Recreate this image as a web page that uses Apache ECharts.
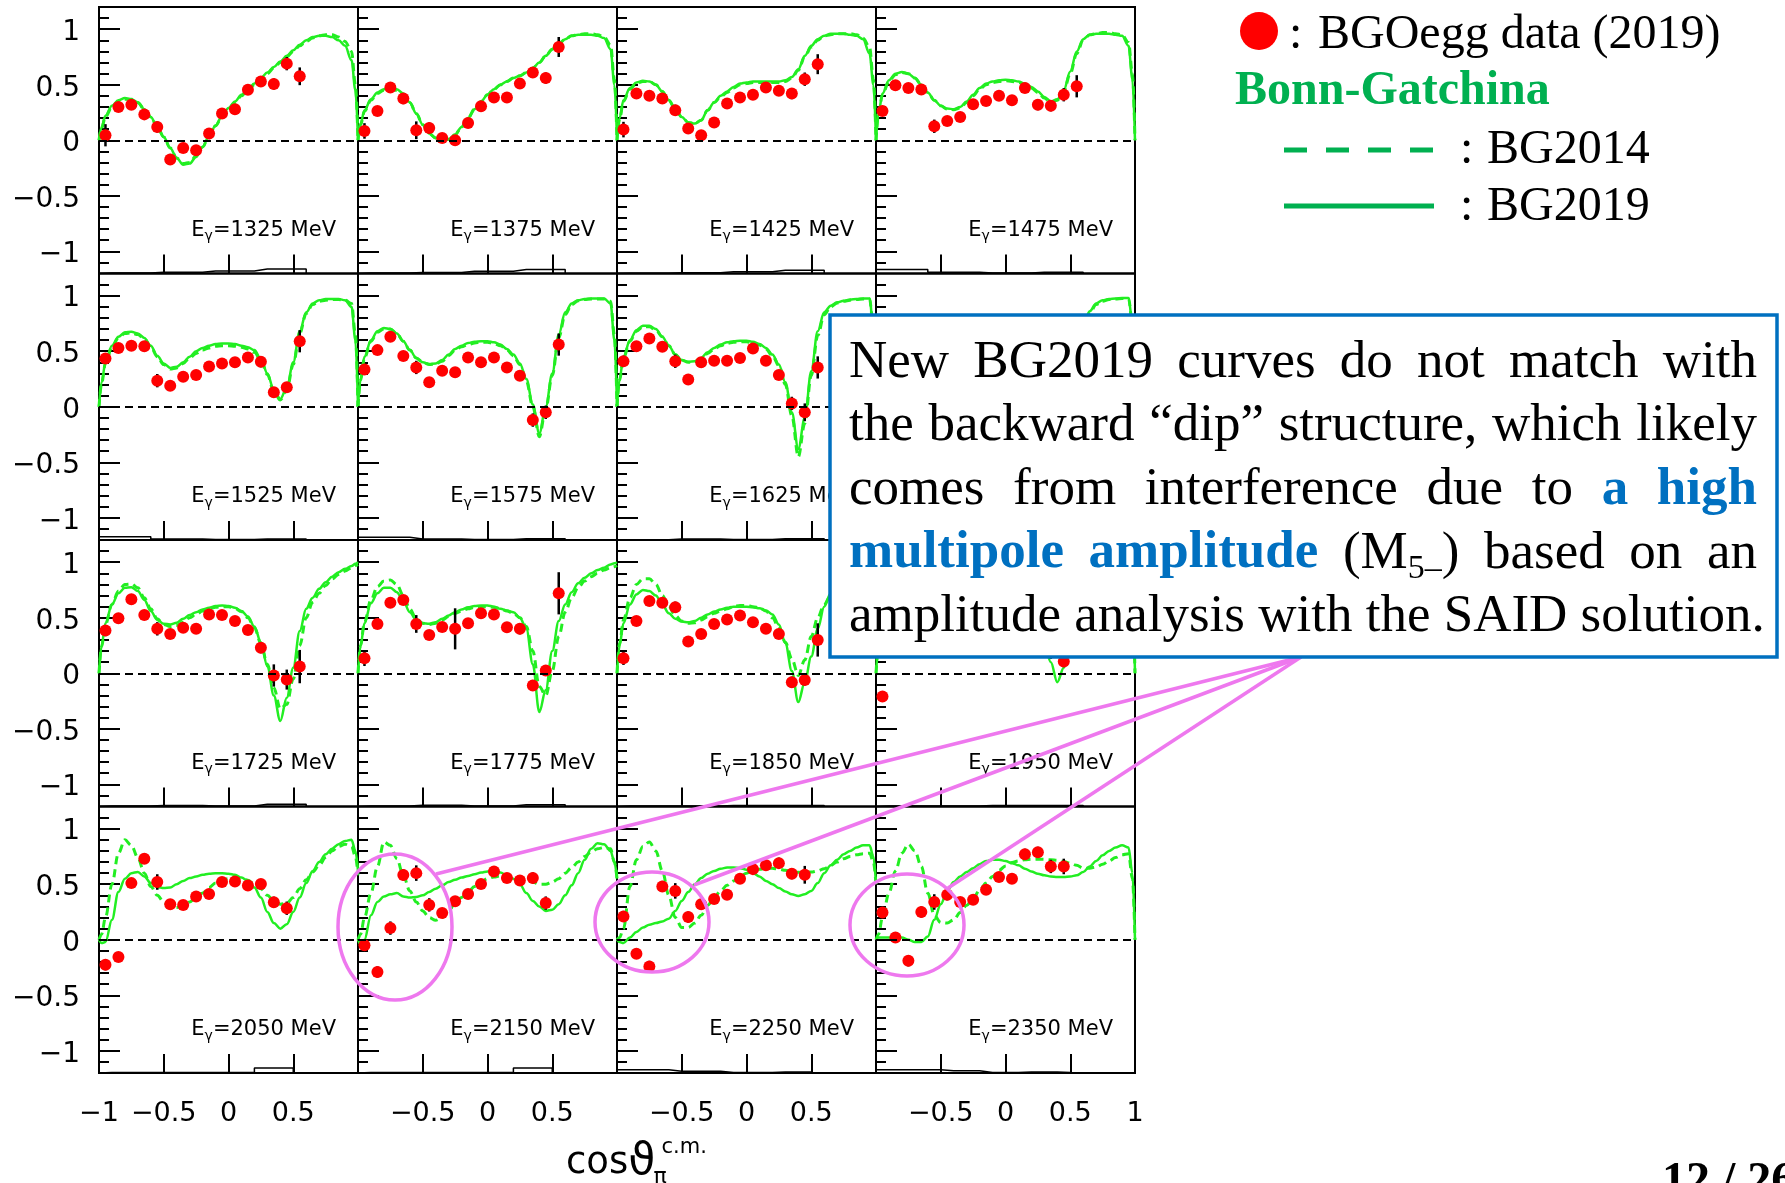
<!DOCTYPE html>
<html>
<head>
<meta charset="utf-8">
<title>BGOegg asymmetry vs Bonn-Gatchina</title>
<script src="https://cdn.jsdelivr.net/npm/echarts@6.0.0/dist/echarts.min.js"></script>
<style>
  html, body { margin: 0; padding: 0; background: #fff; }
  #chart { width: 1785px; height: 1183px; }
</style>
</head>
<body>
<div id="chart"></div>
<script>
// ---------- measured points: bin centres in cos(theta) ----------
const COS_BINS = [-0.95,-0.85,-0.75,-0.65,-0.55,-0.45,-0.35,-0.25,-0.15,-0.05,0.05,0.15,0.25,0.35,0.45,0.55];
// sampling grid of the model curves
const CURVE_X = [-1,-0.98,-0.95,-0.9,-0.85,-0.8,-0.75,-0.7,-0.65,-0.6,-0.55,
  -0.5,-0.45,-0.4,-0.35,-0.3,-0.25,-0.2,-0.15,-0.1,-0.05,0,
  0.05,0.1,0.15,0.2,0.25,0.3,0.35,0.4,0.45,0.5,0.55,
  0.6,0.65,0.7,0.75,0.8,0.85,0.9,0.95,0.98,1];

const ENERGIES = [1325,1375,1425,1475,1525,1575,1625,1675,1725,1775,1850,1950,2050,2150,2250,2350];

// ---------- 1325 MeV ----------
const asym1325 = [0.045,0.30,0.32,0.233,0.12,-0.173,-0.069,-0.09,0.06,0.24,0.28,0.454,0.53,0.507,0.69,0.576];
const err1325  = [0.1,0.03,0.03,0.04,0.05,0.05,0.04,0.04,0.05,0.04,0.04,0.04,0.04,0.05,0.06,0.08];
const bg19_1325 = [0,0.12,0.22,0.31,0.36,0.38,0.37,0.34,0.28,0.21,0.12,
  0.03,-0.07,-0.16,-0.22,-0.21,-0.15,-0.06,0.04,0.13,0.22,0.29,
  0.35,0.41,0.46,0.51,0.56,0.61,0.66,0.71,0.76,0.81,0.86,
  0.9,0.93,0.94,0.94,0.93,0.9,0.85,0.72,0.45,0];
const bg14_1325 = [0,0.11,0.21,0.3,0.35,0.37,0.37,0.34,0.28,0.21,0.12,
  0.03,-0.07,-0.16,-0.21,-0.2,-0.14,-0.06,0.04,0.13,0.21,0.28,
  0.34,0.4,0.45,0.5,0.55,0.6,0.65,0.7,0.75,0.8,0.85,
  0.89,0.92,0.94,0.95,0.95,0.93,0.89,0.8,0.5,0];
const sys1325 = [0.005,0.005,0.005,0.005,0.012,0.012,0.012,0.012,0.022,0.022,0.022,0.022,0.04,0.04,0.04,0.04];

// ---------- 1375 MeV ----------
const asym1375 = [0.084,0.264,0.474,0.375,0.09,0.11,0.02,0.0,0.156,0.306,0.384,0.384,0.51,0.61,0.56,0.84];
const err1375  = [0.07,0.03,0.03,0.05,0.08,0.05,0.04,0.03,0.03,0.03,0.03,0.03,0.03,0.04,0.05,0.09];
const bg19_1375 = [0,0.15,0.27,0.37,0.43,0.46,0.47,0.46,0.42,0.34,0.24,
  0.14,0.06,0.02,0,0.01,0.05,0.12,0.2,0.28,0.35,0.41,
  0.46,0.5,0.53,0.56,0.58,0.61,0.65,0.7,0.76,0.82,0.87,
  0.91,0.94,0.95,0.95,0.95,0.94,0.92,0.82,0.5,0];
const bg14_1375 = [0,0.14,0.26,0.36,0.42,0.45,0.46,0.45,0.41,0.34,0.24,
  0.14,0.06,0.02,0,0.01,0.05,0.12,0.2,0.28,0.35,0.41,
  0.46,0.5,0.53,0.56,0.58,0.61,0.65,0.7,0.76,0.82,0.87,
  0.91,0.94,0.95,0.96,0.96,0.95,0.93,0.86,0.55,0];
const sys1375 = [0.004,0.004,0.004,0.004,0.01,0.01,0.01,0.01,0.02,0.02,0.02,0.02,0.035,0.035,0.035,0.035];

// ---------- 1425 MeV ----------
const asym1425 = [0.096,0.42,0.40,0.375,0.27,0.105,0.045,0.16,0.33,0.385,0.41,0.475,0.445,0.42,0.55,0.685];
const err1425  = [0.07,0.03,0.03,0.04,0.05,0.04,0.03,0.03,0.03,0.03,0.04,0.03,0.04,0.05,0.06,0.09];
const bg19_1425 = [0,0.2,0.36,0.47,0.52,0.535,0.53,0.5,0.44,0.36,0.28,
  0.21,0.16,0.15,0.18,0.27,0.34,0.4,0.44,0.48,0.51,0.52,
  0.53,0.53,0.53,0.53,0.53,0.54,0.57,0.64,0.76,0.85,0.91,
  0.94,0.96,0.96,0.96,0.95,0.94,0.91,0.78,0.5,0];
const bg14_1425 = [0,0.19,0.35,0.46,0.51,0.53,0.53,0.5,0.44,0.36,0.28,
  0.21,0.16,0.15,0.18,0.27,0.34,0.39,0.43,0.47,0.5,0.51,
  0.52,0.52,0.52,0.52,0.52,0.53,0.56,0.63,0.75,0.84,0.9,
  0.94,0.95,0.96,0.96,0.96,0.95,0.92,0.84,0.55,0];
const sys1425 = [0.003,0.003,0.003,0.003,0.006,0.006,0.006,0.006,0.015,0.015,0.015,0.015,0.03,0.03,0.03,0.03];

// ---------- 1475 MeV ----------
const asym1475 = [0.264,0.495,0.47,0.456,0.126,0.174,0.21,0.324,0.354,0.40,0.36,0.47,0.32,0.31,0.41,0.486];
const err1475  = [0.03,0.03,0.03,0.03,0.06,0.03,0.03,0.03,0.03,0.03,0.03,0.03,0.05,0.05,0.06,0.1];
const bg19_1475 = [0,0.25,0.42,0.54,0.6,0.615,0.6,0.56,0.5,0.43,0.36,
  0.31,0.285,0.28,0.3,0.35,0.41,0.47,0.51,0.53,0.54,0.545,
  0.54,0.53,0.51,0.48,0.44,0.39,0.35,0.37,0.45,0.62,0.8,
  0.91,0.95,0.96,0.96,0.96,0.95,0.94,0.85,0.55,0];
const bg14_1475 = [0,0.24,0.41,0.53,0.59,0.61,0.6,0.56,0.5,0.43,0.36,
  0.31,0.28,0.275,0.29,0.34,0.4,0.46,0.5,0.52,0.53,0.535,
  0.53,0.52,0.5,0.47,0.43,0.38,0.34,0.36,0.44,0.6,0.78,
  0.9,0.95,0.96,0.97,0.97,0.96,0.95,0.88,0.6,0];
const sys1475 = [0.035,0.035,0.035,0.035,0.012,0.012,0.012,0.012,0.005,0.005,0.005,0.005,0.012,0.012,0.012,0.012];

// ---------- 1525 MeV ----------
const asym1525 = [0.435,0.53,0.55,0.545,0.235,0.19,0.27,0.285,0.363,0.39,0.40,0.444,0.405,0.13,0.175,0.59];
const err1525  = [0.04,0.03,0.03,0.04,0.06,0.04,0.03,0.03,0.03,0.03,0.03,0.03,0.05,0.04,0.04,0.1];
const bg19_1525 = [0,0.22,0.4,0.55,0.63,0.67,0.675,0.66,0.62,0.55,0.46,
  0.39,0.35,0.36,0.4,0.45,0.5,0.53,0.55,0.565,0.57,0.57,
  0.565,0.55,0.535,0.51,0.43,0.3,0.15,0.07,0.17,0.4,0.68,
  0.85,0.93,0.96,0.97,0.97,0.97,0.96,0.9,0.6,0];
const bg14_1525 = [0,0.21,0.39,0.54,0.62,0.66,0.665,0.65,0.61,0.54,0.45,
  0.38,0.34,0.35,0.39,0.44,0.48,0.51,0.53,0.545,0.55,0.55,
  0.545,0.535,0.52,0.49,0.42,0.29,0.14,0.06,0.15,0.38,0.66,
  0.84,0.92,0.95,0.96,0.965,0.965,0.96,0.93,0.65,0];
const sys1525 = [0.03,0.03,0.03,0.03,0.01,0.01,0.01,0.01,0.005,0.005,0.005,0.005,0.01,0.01,0.01,0.01];

// ---------- 1575 MeV ----------
const asym1575 = [0.336,0.51,0.63,0.456,0.354,0.22,0.324,0.31,0.444,0.40,0.444,0.354,0.28,-0.12,-0.05,0.56];
const err1575  = [0.05,0.03,0.03,0.03,0.06,0.03,0.03,0.03,0.03,0.03,0.03,0.03,0.03,0.06,0.06,0.1];
const bg19_1575 = [0,0.25,0.45,0.6,0.68,0.71,0.7,0.66,0.59,0.51,0.44,
  0.4,0.385,0.39,0.42,0.47,0.52,0.55,0.575,0.585,0.59,0.59,
  0.58,0.56,0.52,0.47,0.39,0.25,0.02,-0.24,0,0.3,0.65,
  0.85,0.93,0.96,0.97,0.975,0.975,0.975,0.93,0.6,0];
const bg14_1575 = [0,0.24,0.44,0.59,0.67,0.7,0.7,0.66,0.59,0.51,0.44,
  0.4,0.38,0.385,0.41,0.46,0.51,0.54,0.56,0.575,0.58,0.58,
  0.57,0.55,0.51,0.46,0.38,0.23,0,-0.27,-0.02,0.28,0.62,
  0.83,0.92,0.955,0.965,0.97,0.97,0.97,0.95,0.65,0];
const sys1575 = [0.025,0.025,0.025,0.025,0.01,0.01,0.01,0.01,0.005,0.005,0.005,0.005,0.012,0.012,0.012,0.012];

// ---------- 1625 MeV ----------
const asym1625 = [0.41,0.545,0.615,0.54,0.41,0.245,0.40,0.415,0.415,0.44,0.525,0.415,0.285,0.03,-0.05,0.354];
const err1625  = [0.05,0.03,0.03,0.03,0.06,0.03,0.03,0.03,0.03,0.03,0.03,0.03,0.03,0.06,0.08,0.1];
const bg19_1625 = [0,0.25,0.45,0.6,0.69,0.73,0.73,0.7,0.63,0.55,0.47,
  0.42,0.405,0.41,0.44,0.49,0.53,0.56,0.58,0.59,0.595,0.595,
  0.585,0.565,0.53,0.47,0.38,0.22,-0.05,-0.38,-0.1,0.32,0.68,
  0.85,0.91,0.94,0.955,0.965,0.97,0.975,0.975,0.7,0];
const bg14_1625 = [0,0.24,0.44,0.59,0.68,0.72,0.72,0.69,0.63,0.55,0.47,
  0.42,0.4,0.405,0.43,0.48,0.52,0.55,0.57,0.58,0.585,0.585,
  0.575,0.555,0.52,0.46,0.37,0.2,-0.08,-0.45,-0.15,0.28,0.64,
  0.83,0.9,0.935,0.95,0.96,0.965,0.97,0.97,0.72,0];
const sys1625 = [0.003,0.003,0.003,0.003,0.008,0.008,0.008,0.008,0.005,0.005,0.005,0.005,0.012,0.012,0.012,0.012];

// ---------- 1675 MeV ----------
const asym1675 = [0.40,0.52,0.64,0.58,0.42,0.32,0.38,0.40,0.44,0.48,0.50,0.42,0.28,0.02,-0.06,0.30];
const err1675  = [0.05,0.03,0.03,0.03,0.06,0.03,0.03,0.03,0.03,0.03,0.03,0.03,0.03,0.06,0.08,0.12];
const bg19_1675 = [0,0.25,0.45,0.61,0.7,0.74,0.74,0.71,0.64,0.56,0.48,
  0.43,0.42,0.43,0.46,0.5,0.54,0.57,0.59,0.6,0.6,0.6,
  0.59,0.57,0.54,0.48,0.39,0.22,-0.05,-0.4,-0.15,0.25,0.55,
  0.74,0.86,0.93,0.96,0.97,0.975,0.98,0.98,0.75,0];
const bg14_1675 = [0,0.25,0.46,0.63,0.73,0.77,0.77,0.73,0.65,0.56,0.48,
  0.43,0.42,0.43,0.45,0.49,0.53,0.56,0.58,0.59,0.595,0.595,
  0.585,0.565,0.53,0.47,0.38,0.22,0,-0.3,-0.2,0.15,0.48,
  0.7,0.84,0.92,0.95,0.965,0.97,0.975,0.975,0.75,0];
const sys1675 = [0.003,0.003,0.003,0.003,0.008,0.008,0.008,0.008,0.005,0.005,0.005,0.005,0.012,0.012,0.012,0.012];

// ---------- 1725 MeV ----------
const asym1725 = [0.384,0.495,0.666,0.525,0.40,0.354,0.41,0.40,0.53,0.525,0.47,0.39,0.23,-0.02,-0.057,0.06];
const err1725  = [0.05,0.03,0.03,0.03,0.06,0.03,0.03,0.03,0.03,0.03,0.03,0.03,0.05,0.1,0.09,0.15];
const bg19_1725 = [0,0.25,0.45,0.62,0.72,0.77,0.775,0.74,0.66,0.56,0.48,
  0.445,0.44,0.455,0.49,0.525,0.55,0.575,0.59,0.605,0.61,0.605,
  0.59,0.56,0.51,0.42,0.28,0.06,-0.2,-0.43,-0.22,0.05,0.38,
  0.58,0.68,0.76,0.82,0.87,0.91,0.94,0.965,0.985,1];
const bg14_1725 = [0,0.24,0.44,0.62,0.74,0.8,0.805,0.77,0.68,0.58,0.49,
  0.44,0.42,0.43,0.46,0.5,0.53,0.56,0.58,0.595,0.6,0.6,
  0.585,0.555,0.5,0.41,0.27,0.08,-0.13,-0.32,-0.28,-0.05,0.25,
  0.5,0.64,0.72,0.79,0.85,0.89,0.92,0.95,0.97,0.98];
const sys1725 = [0.005,0.005,0.005,0.005,0.01,0.01,0.01,0.01,0.005,0.005,0.005,0.005,0.02,0.02,0.02,0.02];

// ---------- 1775 MeV ----------
const asym1775 = [0.135,0.444,0.634,0.66,0.444,0.345,0.417,0.40,0.45,0.54,0.53,0.414,0.40,-0.11,0.024,0.72];
const err1775  = [0.07,0.03,0.03,0.04,0.08,0.03,0.03,0.185,0.03,0.03,0.03,0.03,0.05,0.05,0.04,0.19];
const bg19_1775 = [0,0.25,0.45,0.63,0.72,0.77,0.77,0.73,0.65,0.55,0.48,
  0.45,0.445,0.46,0.49,0.52,0.55,0.575,0.595,0.605,0.61,0.61,
  0.6,0.58,0.565,0.55,0.5,0.4,0.08,-0.35,-0.15,0.2,0.47,
  0.62,0.73,0.81,0.86,0.9,0.93,0.95,0.98,0.99,1];
const bg14_1775 = [0,0.25,0.46,0.66,0.78,0.83,0.84,0.8,0.7,0.58,0.49,
  0.45,0.44,0.45,0.48,0.51,0.54,0.56,0.58,0.595,0.6,0.6,
  0.595,0.58,0.56,0.54,0.5,0.42,0.2,-0.12,-0.2,0.02,0.33,
  0.55,0.68,0.77,0.83,0.87,0.9,0.93,0.95,0.96,0.97];
const sys1775 = [0.005,0.005,0.005,0.005,0.012,0.012,0.012,0.012,0.005,0.005,0.005,0.005,0.015,0.015,0.015,0.015];

// ---------- 1850 MeV ----------
const asym1850 = [0.135,0.47,0.65,0.634,0.595,0.285,0.354,0.444,0.483,0.52,0.46,0.40,0.354,-0.08,-0.06,0.30];
const err1850  = [0.06,0.03,0.03,0.03,0.05,0.03,0.03,0.03,0.03,0.03,0.03,0.03,0.04,0.05,0.05,0.15];
const bg19_1850 = [0,0.25,0.45,0.62,0.71,0.75,0.74,0.7,0.62,0.54,0.49,
  0.465,0.46,0.47,0.5,0.53,0.555,0.575,0.59,0.6,0.6,0.6,
  0.595,0.585,0.565,0.53,0.44,0.27,0.02,-0.26,-0.08,0.15,0.4,
  0.6,0.72,0.8,0.86,0.9,0.93,0.95,0.97,0.98,0.99];
const bg14_1850 = [0,0.27,0.48,0.68,0.8,0.85,0.85,0.8,0.7,0.6,0.52,
  0.47,0.45,0.455,0.48,0.51,0.54,0.56,0.58,0.6,0.61,0.61,
  0.6,0.59,0.56,0.5,0.41,0.28,0.13,-0.02,0.12,0.33,0.5,
  0.62,0.7,0.77,0.83,0.88,0.91,0.94,0.96,0.97,0.98];
const sys1850 = [0.004,0.004,0.004,0.004,0.004,0.004,0.004,0.004,0.008,0.008,0.008,0.008,0.008,0.008,0.008,0.008];

// ---------- 1950 MeV ----------
const asym1950 = [-0.21,0.30,0.55,0.60,0.50,0.35,0.40,0.45,0.50,0.55,0.50,0.45,0.35,0.20,0.105,0.40];
const err1950  = [0.03,0.03,0.03,0.03,0.05,0.03,0.03,0.03,0.03,0.03,0.03,0.03,0.04,0.07,0.05,0.15];
const bg19_1950 = [0,0.25,0.45,0.62,0.72,0.76,0.75,0.7,0.62,0.54,0.49,
  0.47,0.47,0.49,0.52,0.55,0.57,0.59,0.6,0.61,0.61,0.6,
  0.59,0.57,0.53,0.47,0.38,0.26,0.1,-0.08,0.05,0.3,0.52,
  0.67,0.77,0.83,0.87,0.9,0.92,0.93,0.93,0.7,0];
const bg14_1950 = [0,0.26,0.47,0.67,0.79,0.84,0.84,0.79,0.7,0.6,0.52,
  0.48,0.47,0.48,0.5,0.53,0.56,0.58,0.6,0.61,0.62,0.62,
  0.61,0.6,0.57,0.52,0.45,0.38,0.3,0.25,0.3,0.42,0.56,
  0.67,0.75,0.81,0.86,0.89,0.91,0.92,0.92,0.7,0];
const sys1950 = [0.004,0.004,0.004,0.004,0.004,0.004,0.004,0.004,0.008,0.008,0.008,0.008,0.008,0.008,0.008,0.008];

// ---------- 2050 MeV ----------
const asym2050 = [-0.225,-0.156,0.51,0.73,0.52,0.32,0.314,0.39,0.413,0.52,0.524,0.488,0.503,0.338,0.284];
const err2050  = [0.05,0.04,0.04,0.04,0.07,0.04,0.03,0.03,0.03,0.03,0.03,0.03,0.04,0.05,0.06];
const bg19_2050 = [0,-0.03,-0.02,0.18,0.43,0.55,0.6,0.61,0.57,0.51,0.475,
  0.465,0.47,0.5,0.53,0.555,0.57,0.585,0.595,0.6,0.6,0.595,
  0.585,0.56,0.53,0.47,0.38,0.25,0.15,0.1,0.14,0.25,0.38,
  0.51,0.62,0.7,0.77,0.82,0.86,0.89,0.9,0.8,0.62];
const bg14_2050 = [0,0.05,0.2,0.5,0.78,0.9,0.85,0.74,0.6,0.48,0.4,
  0.34,0.3,0.29,0.31,0.34,0.38,0.42,0.47,0.51,0.54,0.55,
  0.555,0.55,0.535,0.5,0.46,0.4,0.35,0.32,0.33,0.38,0.46,
  0.54,0.61,0.67,0.74,0.8,0.84,0.86,0.84,0.75,0.58];
const sys2050 = [0.005,0.005,0.005,0.005,0.005,0.005,0.005,0.005,0.005,0.005,0.005,0.005,0.045,0.045,0.045];

// ---------- 2150 MeV ----------
const asym2150 = [-0.05,-0.29,0.105,0.584,0.60,0.314,0.24,0.347,0.413,0.503,0.614,0.557,0.533,0.557,0.33];
const err2150  = [0.04,0.05,0.06,0.05,0.07,0.06,0.03,0.03,0.03,0.03,0.03,0.03,0.04,0.05,0.06];
const bg19_2150 = [0,-0.04,0,0.22,0.34,0.39,0.41,0.42,0.39,0.38,0.385,
  0.4,0.43,0.46,0.49,0.52,0.54,0.56,0.575,0.59,0.605,0.615,
  0.62,0.605,0.58,0.55,0.5,0.42,0.35,0.3,0.26,0.27,0.32,
  0.4,0.49,0.6,0.72,0.82,0.87,0.86,0.8,0.7,0.55];
const bg14_2150 = [0,0.05,0.2,0.42,0.66,0.88,0.85,0.73,0.58,0.44,0.34,
  0.26,0.2,0.175,0.2,0.26,0.33,0.38,0.43,0.48,0.52,0.55,
  0.565,0.575,0.58,0.57,0.56,0.545,0.52,0.5,0.5,0.52,0.55,
  0.6,0.65,0.7,0.75,0.79,0.82,0.83,0.82,0.7,0.55];
const sys2150 = [0.005,0.005,0.005,0.005,0.005,0.005,0.005,0.005,0.005,0.005,0.005,0.005,0.045,0.045,0.045];

// ---------- 2250 MeV ----------
const asym2250 = [0.21,-0.126,-0.24,0.48,0.44,0.204,0.32,0.366,0.405,0.55,0.636,0.67,0.69,0.595,0.585];
const err2250  = [0.05,0.04,0.05,0.05,0.07,0.05,0.03,0.03,0.03,0.03,0.03,0.03,0.05,0.05,0.08];
const bg19_2250 = [0,-0.02,-0.03,0.02,0.07,0.11,0.135,0.15,0.165,0.19,0.26,
  0.35,0.43,0.5,0.555,0.595,0.62,0.64,0.65,0.65,0.645,0.63,
  0.6,0.57,0.53,0.5,0.465,0.435,0.41,0.395,0.41,0.44,0.51,
  0.6,0.67,0.72,0.77,0.8,0.83,0.85,0.85,0.75,0.5];
const bg14_2250 = [0,0.02,0.1,0.48,0.72,0.84,0.88,0.8,0.62,0.4,0.2,
  0.11,0.11,0.15,0.22,0.31,0.38,0.44,0.49,0.53,0.57,0.6,
  0.62,0.635,0.645,0.645,0.635,0.625,0.615,0.607,0.605,0.61,0.62,
  0.64,0.67,0.7,0.73,0.75,0.765,0.775,0.78,0.7,0.5];
const sys2250 = [0.03,0.03,0.03,0.03,0.015,0.015,0.015,0.015,0.005,0.005,0.005,0.005,0.01,0.01,0.01];

// ---------- 2350 MeV ----------
const asym2350 = [0.246,0.02,-0.19,0.25,0.34,0.405,0.34,0.36,0.45,0.565,0.55,0.77,0.787,0.66,0.66];
const err2350  = [0.05,0.03,0.05,0.05,0.07,0.05,0.03,0.03,0.03,0.03,0.04,0.05,0.05,0.06,0.07];
const bg19_2350 = [0,0.02,0.02,0.02,0.02,0.02,0,-0.02,-0.02,0.03,0.18,
  0.32,0.44,0.52,0.57,0.61,0.645,0.68,0.71,0.72,0.72,0.71,
  0.69,0.67,0.64,0.615,0.595,0.58,0.57,0.565,0.565,0.57,0.58,
  0.61,0.66,0.71,0.76,0.8,0.83,0.85,0.83,0.6,0];
const bg14_2350 = [0,0.05,0.2,0.42,0.62,0.78,0.86,0.8,0.66,0.42,0.22,
  0.155,0.15,0.18,0.245,0.31,0.375,0.445,0.51,0.57,0.625,0.665,
  0.695,0.71,0.72,0.725,0.726,0.724,0.72,0.715,0.705,0.69,0.67,
  0.645,0.645,0.655,0.68,0.71,0.74,0.765,0.775,0.55,0];
const sys2350 = [0.03,0.03,0.03,0.03,0.03,0.02,0.02,0.02,0.005,0.005,0.005,0.01,0.01,0.01,0.005];

// ---------- tick labels ----------
const Y_MAJOR = [-1,-0.5,0,0.5,1];
const Y_MINOR = [-1.1,-0.9,-0.8,-0.7,-0.6,-0.4,-0.3,-0.2,-0.1,0.1,0.2,0.3,0.4,0.6,0.7,0.8,0.9,1.1];
const X_LABELS = [[-1,-0.5,0,0.5],[-0.5,0,0.5],[-0.5,0,0.5],[-0.5,0,0.5,1]];

const PANELS = [
  {e:1325, v:asym1325, err:err1325, bg14:bg14_1325, bg19:bg19_1325, sys:sys1325},
  {e:1375, v:asym1375, err:err1375, bg14:bg14_1375, bg19:bg19_1375, sys:sys1375},
  {e:1425, v:asym1425, err:err1425, bg14:bg14_1425, bg19:bg19_1425, sys:sys1425},
  {e:1475, v:asym1475, err:err1475, bg14:bg14_1475, bg19:bg19_1475, sys:sys1475},
  {e:1525, v:asym1525, err:err1525, bg14:bg14_1525, bg19:bg19_1525, sys:sys1525},
  {e:1575, v:asym1575, err:err1575, bg14:bg14_1575, bg19:bg19_1575, sys:sys1575},
  {e:1625, v:asym1625, err:err1625, bg14:bg14_1625, bg19:bg19_1625, sys:sys1625},
  {e:1675, v:asym1675, err:err1675, bg14:bg14_1675, bg19:bg19_1675, sys:sys1675},
  {e:1725, v:asym1725, err:err1725, bg14:bg14_1725, bg19:bg19_1725, sys:sys1725},
  {e:1775, v:asym1775, err:err1775, bg14:bg14_1775, bg19:bg19_1775, sys:sys1775},
  {e:1850, v:asym1850, err:err1850, bg14:bg14_1850, bg19:bg19_1850, sys:sys1850},
  {e:1950, v:asym1950, err:err1950, bg14:bg14_1950, bg19:bg19_1950, sys:sys1950},
  {e:2050, v:asym2050, err:err2050, bg14:bg14_2050, bg19:bg19_2050, sys:sys2050},
  {e:2150, v:asym2150, err:err2150, bg14:bg14_2150, bg19:bg19_2150, sys:sys2150},
  {e:2250, v:asym2250, err:err2250, bg14:bg14_2250, bg19:bg19_2250, sys:sys2250},
  {e:2350, v:asym2350, err:err2350, bg14:bg14_2350, bg19:bg19_2350, sys:sys2350}
];

// ---------- layout ----------
const GX0 = 99, GY0 = 7, GW = 259, GH = 266.5;
const Y_MIN = -1.2, Y_MAX = 1.2;
const CURVE_GREEN = '#22ee22';
const LEGEND_GREEN = '#00B050';
const NOTE_BLUE = '#0070C0';
const CALLOUT = '#ee78ee';
const SANS = '"DejaVu Sans", sans-serif';
const SERIF = '"Liberation Serif", "Times New Roman", serif';

const measure = document.createElement('canvas').getContext('2d');
function tw(t, font) { measure.font = font; return measure.measureText(t).width; }
function runsWidth(runs) { return runs.reduce((s, q) => s + tw(q.t, q.font), 0); }
function placeRuns(runs, x, y, z) {
  const out = [];
  runs.forEach(q => {
    out.push({ type: 'text', z: z, silent: true,
      style: { text: q.t, x: x, y: y + (q.dy || 0), font: q.font, fill: q.fill || '#000',
               textAlign: 'left', textVerticalAlign: 'middle' } });
    x += tw(q.t, q.font);
  });
  return out;
}
const minusFmt = v => (v < 0 ? '\u2212' + Math.abs(v) : String(v));

const grids = [], xAxes = [], yAxes = [], series = [], G = [];

PANELS.forEach((p, i) => {
  const r = Math.floor(i / 4), c = i % 4;
  grids.push({ left: GX0 + c * GW, top: GY0 + r * GH, width: GW, height: GH,
    show: true, borderColor: '#000', borderWidth: 2, backgroundColor: 'rgba(0,0,0,0)' });

  xAxes.push({ gridIndex: i, type: 'value', min: -1, max: 1, interval: 0.5,
    axisLine: { show: false, onZero: false }, splitLine: { show: false },
    axisTick: { show: true, inside: true, length: 19, lineStyle: { color: '#000', width: 2 } },
    axisLabel: { show: r === 3, customValues: X_LABELS[c], formatter: minusFmt,
      margin: 27, color: '#000', fontFamily: SANS, fontSize: 27 } });

  yAxes.push({ gridIndex: i, type: 'value', position: 'left', min: Y_MIN, max: Y_MAX,
    axisLine: { show: false, onZero: false }, splitLine: { show: false },
    axisTick: { show: true, inside: true, length: 21, customValues: Y_MAJOR, lineStyle: { color: '#000', width: 2 } },
    axisLabel: { show: c === 0, customValues: Y_MAJOR, margin: 19,
      formatter: v => '{t|' + minusFmt(v) + '}',
      rich: { t: { color: '#000', fontFamily: SANS, fontSize: 28, padding: [7, 0, 0, 0] } } } });
  yAxes.push({ gridIndex: i, type: 'value', position: 'left', offset: 0, min: Y_MIN, max: Y_MAX,
    axisLine: { show: false, onZero: false }, splitLine: { show: false }, axisLabel: { show: false },
    axisTick: { show: true, inside: true, length: 10, customValues: Y_MINOR, lineStyle: { color: '#000', width: 2 } } });

  const yi = 2 * i;
  const bins = COS_BINS.slice(0, p.v.length);

  // systematic-error histogram along the bottom edge, plus the dashed zero line
  const sysPts = [[-1, Y_MIN]];
  bins.forEach((x, k) => sysPts.push([x - 0.05, Y_MIN + p.sys[k]]));
  sysPts.push([bins[bins.length - 1] + 0.05, Y_MIN]);
  series.push({ type: 'line', xAxisIndex: i, yAxisIndex: yi, data: sysPts, step: 'end',
    showSymbol: false, silent: true, z: 1,
    lineStyle: { color: '#000', width: 1.5 },
    markLine: { silent: true, symbol: ['none', 'none'], label: { show: false },
      lineStyle: { color: '#000', width: 2, type: [8, 5] }, data: [{ yAxis: 0 }] } });

  series.push({ type: 'line', name: 'BG2014', xAxisIndex: i, yAxisIndex: yi,
    data: CURVE_X.map((x, k) => [x, p.bg14[k]]), smooth: 0.35, smoothMonotone: 'x',
    showSymbol: false, silent: true, z: 2,
    lineStyle: { color: CURVE_GREEN, width: 3, type: [8, 5] } });
  series.push({ type: 'line', name: 'BG2019', xAxisIndex: i, yAxisIndex: yi,
    data: CURVE_X.map((x, k) => [x, p.bg19[k]]), smooth: 0.35, smoothMonotone: 'x',
    showSymbol: false, silent: true, z: 2,
    lineStyle: { color: CURVE_GREEN, width: 2.5 } });

  series.push({ type: 'custom', name: 'err', xAxisIndex: i, yAxisIndex: yi, silent: true, z: 3,
    data: bins.map((x, k) => [x, p.v[k] - p.err[k], p.v[k] + p.err[k]]),
    encode: { x: 0, y: [1, 2] },
    renderItem: (params, api) => {
      const a = api.coord([api.value(0), api.value(1)]);
      const b = api.coord([api.value(0), api.value(2)]);
      return { type: 'line', shape: { x1: a[0], y1: a[1], x2: b[0], y2: b[1] },
               style: { stroke: '#000', lineWidth: 2.5 } };
    } });
  series.push({ type: 'scatter', name: 'BGOegg', xAxisIndex: i, yAxisIndex: yi, silent: true, z: 4,
    data: bins.map((x, k) => [x, p.v[k]]), symbol: 'circle', symbolSize: 12,
    itemStyle: { color: '#ff0000', opacity: 1 } });

  // E_gamma label in the lower right corner of the panel
  const eRuns = [
    { t: 'E', font: `21px ${SANS}` },
    { t: '\u03b3', font: `14px ${SANS}`, dy: 6 },
    { t: '=' + p.e + ' MeV', font: `21px ${SANS}` }
  ];
  const right = GX0 + (c + 1) * GW - 22, cy = GY0 + r * GH + 223.5;
  G.push(...placeRuns(eRuns, right - runsWidth(eRuns), cy, 10));
});

// ---------- x-axis title ----------
(function () {
  const x0 = 566, y0 = 1163;
  const fc = `37px ${SANS}`, ft = `44px ${SANS}`;
  G.push(...placeRuns([{ t: 'cos', font: fc }, { t: '\u03d1', font: ft }], x0, y0, 10));
  const x1 = x0 + tw('cos', fc) + tw('\u03d1', ft);
  G.push(...placeRuns([{ t: '\u03c0', font: `22px ${SANS}` }], x1 - 2, y0 + 14, 10));
  G.push(...placeRuns([{ t: 'c.m.', font: `21px ${SANS}` }], x1 + 6, y0 - 15, 10));
})();

// ---------- legend ----------
const LF = `48px ${SERIF}`;
G.push({ type: 'circle', z: 60, silent: true, shape: { cx: 1259, cy: 31, r: 19 }, style: { fill: '#ff0000' } });
G.push(...placeRuns([{ t: ':', font: LF }], 1289, 35, 60));
G.push(...placeRuns([{ t: 'BGOegg data (2019)', font: LF }], 1318, 35, 60));
G.push(...placeRuns([{ t: 'Bonn-Gatchina', font: `bold ${LF}`, fill: LEGEND_GREEN }], 1235, 92, 60));
G.push({ type: 'line', z: 60, silent: true, shape: { x1: 1284, y1: 150, x2: 1434, y2: 150 },
  style: { stroke: LEGEND_GREEN, lineWidth: 5, lineDash: [23, 19] } });
G.push(...placeRuns([{ t: ':', font: LF }], 1460, 150, 60));
G.push(...placeRuns([{ t: 'BG2014', font: LF }], 1487, 150, 60));
G.push({ type: 'line', z: 60, silent: true, shape: { x1: 1284, y1: 206, x2: 1434, y2: 206 },
  style: { stroke: LEGEND_GREEN, lineWidth: 5 } });
G.push(...placeRuns([{ t: ':', font: LF }], 1460, 207, 60));
G.push(...placeRuns([{ t: 'BG2019', font: LF }], 1487, 207, 60));

// ---------- callout lines and ellipses ----------
const HUB = [1301, 657];
[[436, 874], [694, 885], [948, 888]].forEach(pt => {
  G.push({ type: 'line', z: 48, silent: true, shape: { x1: HUB[0], y1: HUB[1], x2: pt[0], y2: pt[1] },
    style: { stroke: CALLOUT, lineWidth: 3.5 } });
});
[[395, 927, 57, 73], [652, 922, 57, 50], [907, 925, 57, 51]].forEach(e => {
  G.push({ type: 'ellipse', z: 48, silent: true, shape: { cx: e[0], cy: e[1], rx: e[2], ry: e[3] },
    style: { fill: 'none', stroke: CALLOUT, lineWidth: 3.5 } });
});

// ---------- note box ----------
G.push({ type: 'rect', z: 50, silent: true, shape: { x: 830, y: 315, width: 947, height: 342 },
  style: { fill: '#fff', stroke: NOTE_BLUE, lineWidth: 3.5 } });
const NF = `53px ${SERIF}`, NB = `bold 53px ${SERIF}`, NS = `34px ${SERIF}`;
const NOTE_LINES = [
  ['New', 'BG2019', 'curves', 'do', 'not', 'match', 'with'],
  ['the', 'backward', '\u201cdip\u201d', 'structure,', 'which', 'likely'],
  ['comes', 'from', 'interference', 'due', 'to', '*a', '*high'],
  ['*multipole', '*amplitude', '#M5', 'based', 'on', 'an'],
  ['amplitude', 'analysis', 'with', 'the', 'SAID', 'solution.']
];
function wordRuns(w) {
  if (w === '#M5') return [{ t: '(M', font: NF }, { t: '5\u2013', font: NS, dy: 15 }, { t: ')', font: NF }];
  if (w[0] === '*') return [{ t: w.slice(1), font: NB, fill: NOTE_BLUE }];
  return [{ t: w, font: NF }];
}
const NOTE_L = 849, NOTE_R = 1757, NOTE_Y0 = 362.7, NOTE_DY = 63.7;
NOTE_LINES.forEach((words, li) => {
  const runs = words.map(wordRuns);
  const widths = runs.map(runsWidth);
  const total = widths.reduce((a, b) => a + b, 0);
  const last = li === NOTE_LINES.length - 1;
  const gap = last ? tw(' ', NF) : (NOTE_R - NOTE_L - total) / (words.length - 1);
  let x = NOTE_L;
  const y = NOTE_Y0 + li * NOTE_DY;
  runs.forEach((rs, k) => { G.push(...placeRuns(rs, x, y, 51)); x += widths[k] + gap; });
});

// ---------- page number ----------
G.push(...placeRuns([{ t: '12 / 26', font: `bold 48px ${SERIF}` }], 1662, 1183, 60));

const chart = echarts.init(document.getElementById('chart'), null, { renderer: 'canvas' });
chart.setOption({
  animation: false,
  backgroundColor: '#fff',
  grid: grids,
  xAxis: xAxes,
  yAxis: yAxes,
  series: series,
  graphic: { elements: G }
});
</script>
</body>
</html>
